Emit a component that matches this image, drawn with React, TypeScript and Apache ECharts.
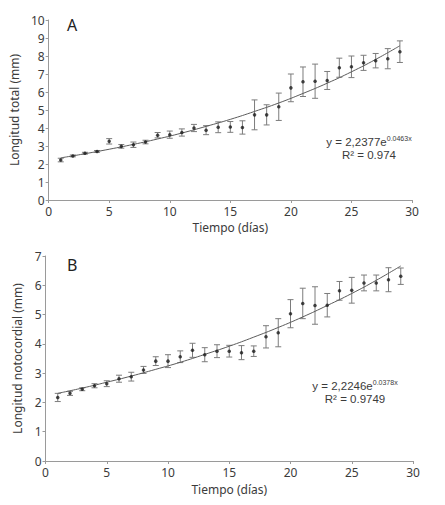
import * as echarts from 'echarts'
import { useEffect, useRef } from 'react'

const days = [1, 2, 3, 4, 5, 6, 7, 8, 9, 10, 11, 12, 13, 14, 15, 16, 17, 18, 19, 20, 21, 22, 23, 24, 25, 26, 27, 28, 29]

// Panel A: longitud total (mm)
const meanA = [2.22, 2.45, 2.6, 2.7, 3.26, 2.98, 3.07, 3.22, 3.6, 3.63, 3.75, 4.0, 3.88, 4.04, 4.06, 4.03, 4.73, 4.73, 5.18, 6.23, 6.57, 6.6, 6.64, 7.35, 7.4, 7.62, 7.74, 7.85, 8.24]
const errA = [0.1, 0.05, 0.05, 0.05, 0.15, 0.1, 0.15, 0.1, 0.15, 0.2, 0.2, 0.2, 0.25, 0.3, 0.3, 0.37, 0.83, 0.56, 0.76, 0.77, 0.82, 0.95, 0.5, 0.53, 0.6, 0.42, 0.4, 0.56, 0.6]

// Panel B: longitud notocordial (mm)
const meanB = [2.17, 2.31, 2.45, 2.57, 2.64, 2.81, 2.88, 3.11, 3.41, 3.41, 3.56, 3.78, 3.63, 3.75, 3.75, 3.7, 3.75, 4.24, 4.38, 5.03, 5.38, 5.31, 5.32, 5.81, 5.83, 6.08, 6.08, 6.19, 6.31]
const errB = [0.14, 0.07, 0.05, 0.07, 0.1, 0.12, 0.15, 0.12, 0.15, 0.22, 0.2, 0.24, 0.24, 0.22, 0.2, 0.24, 0.18, 0.38, 0.48, 0.48, 0.52, 0.64, 0.4, 0.32, 0.44, 0.27, 0.27, 0.41, 0.28]

// trend lines
const fitDays = [1, 3, 5, 7, 9, 11, 13, 15, 17, 19, 21, 23, 25, 27, 29]
const fitA = [2.34, 2.57, 2.82, 3.09, 3.39, 3.72, 4.09, 4.48, 4.92, 5.39, 5.92, 6.49, 7.12, 7.81, 8.57]
const fitB = [2.31, 2.49, 2.69, 2.9, 3.13, 3.37, 3.64, 3.92, 4.23, 4.56, 4.92, 5.31, 5.72, 6.17, 6.66]

const xTicks = { min: 0, max: 30, interval: 5 }
const font = '"Noto Sans", sans-serif'
const eqFont = '"Liberation Sans", sans-serif'
const textColor = '#3b3b3b'
const axisColor = '#9a9a9a'

function renderErrorBar(_params: any, api: any) {
  const x = api.value(0)
  const top = api.coord([x, api.value(2)])
  const bottom = api.coord([x, api.value(1)])
  const cap = 3
  const style = { stroke: '#7c7c7c', lineWidth: 1 }
  return {
    type: 'group',
    children: [
      { type: 'line', shape: { x1: top[0], y1: top[1], x2: bottom[0], y2: bottom[1] }, style },
      { type: 'line', shape: { x1: top[0] - cap, y1: top[1], x2: top[0] + cap, y2: top[1] }, style },
      { type: 'line', shape: { x1: bottom[0] - cap, y1: bottom[1], x2: bottom[0] + cap, y2: bottom[1] }, style },
    ],
  }
}

function xAxis(gridIndex: number, nameGap: number) {
  return {
    type: 'value',
    gridIndex,
    ...xTicks,
    name: 'Tiempo (días)',
    nameLocation: 'middle',
    nameGap,
    nameTextStyle: { color: textColor, fontSize: 12, fontFamily: font },
    axisLine: { lineStyle: { color: axisColor, width: 1 } },
    axisTick: { length: 3, lineStyle: { color: axisColor } },
    axisLabel: { color: textColor, fontSize: 12, fontFamily: font, margin: 5 },
    splitLine: { show: false },
  }
}

function yAxis(gridIndex: number, max: number, name: string, nameGap: number) {
  return {
    type: 'value',
    gridIndex,
    min: 0,
    max,
    interval: 1,
    name,
    nameLocation: 'middle',
    nameGap,
    nameTextStyle: { color: textColor, fontSize: 12, fontFamily: font },
    axisLine: { show: true, lineStyle: { color: axisColor, width: 1 } },
    axisTick: { show: true, length: 3, lineStyle: { color: axisColor } },
    axisLabel: { color: textColor, fontSize: 12, fontFamily: font, margin: 4 },
    splitLine: { show: false },
  }
}

function panelSeries(index: number, mean: number[], err: number[], fit: number[]) {
  return [
    {
      type: 'custom',
      xAxisIndex: index,
      yAxisIndex: index,
      renderItem: renderErrorBar,
      encode: { x: 0, y: [1, 2] },
      data: days.map((d, i) => [d, mean[i] - err[i], mean[i] + err[i]]),
      z: 2,
    },
    {
      type: 'line',
      xAxisIndex: index,
      yAxisIndex: index,
      data: fitDays.map((d, i) => [d, fit[i]]),
      smooth: true,
      showSymbol: false,
      lineStyle: { color: '#5c5c5c', width: 1 },
      z: 3,
    },
    {
      type: 'scatter',
      xAxisIndex: index,
      yAxisIndex: index,
      data: days.map((d, i) => [d, mean[i]]),
      symbol: 'circle',
      symbolSize: 3.5,
      itemStyle: { color: '#1c1c1c' },
      z: 4,
    },
  ]
}

// two-line label (equation + R²) in one text element
function equation(x: number, y: number, coef: string, exp: string, r2: string) {
  return {
    type: 'text',
    x,
    y,
    style: {
      text: `{t|y = ${coef}e}{sup|${exp}}\n{t|R² = ${r2}}`,
      align: 'center',
      verticalAlign: 'top',
      fill: textColor,
      rich: {
        t: { fontSize: 11.5, fontFamily: eqFont, fill: textColor, lineHeight: 13.5 },
        sup: { fontSize: 7, fontFamily: eqFont, fill: textColor, verticalAlign: 'top', lineHeight: 13.5 },
      },
    },
  }
}

export default function App() {
  const ref = useRef<HTMLDivElement>(null)

  useEffect(() => {
    const el = ref.current
    if (!el) return
    const chart = echarts.init(el, null, { renderer: 'svg' })
    chart.setOption({
      animation: false,
      backgroundColor: '#ffffff',
      grid: [
        { left: 43.5, top: 20, width: 368.5, height: 180 },
        { left: 45.5, top: 256, width: 367.5, height: 205 },
      ],
      xAxis: [xAxis(0, 21), xAxis(1, 22)],
      yAxis: [
        yAxis(0, 10, 'Longitud total (mm)', 24),
        yAxis(1, 7, 'Longitud notocordial (mm)', 18),
      ],
      series: [...panelSeries(0, meanA, errA, fitA), ...panelSeries(1, meanB, errB, fitB)],
      graphic: [
        { type: 'text', x: 67, y: 25, style: { text: 'A', fontSize: 16, fontFamily: font, fill: '#222', verticalAlign: 'middle' } },
        { type: 'text', x: 67, y: 265, style: { text: 'B', fontSize: 16, fontFamily: font, fill: '#222', verticalAlign: 'middle' } },
        equation(369, 135, '2,2377', '0.0463x', '0.974'),
        equation(355, 379, '2,2246', '0.0378x', '0.9749'),
      ],
    })
    return () => chart.dispose()
  }, [])

  return <div ref={ref} style={{ position: 'fixed', left: 0, top: 0, width: 445, height: 505 }} />
}
